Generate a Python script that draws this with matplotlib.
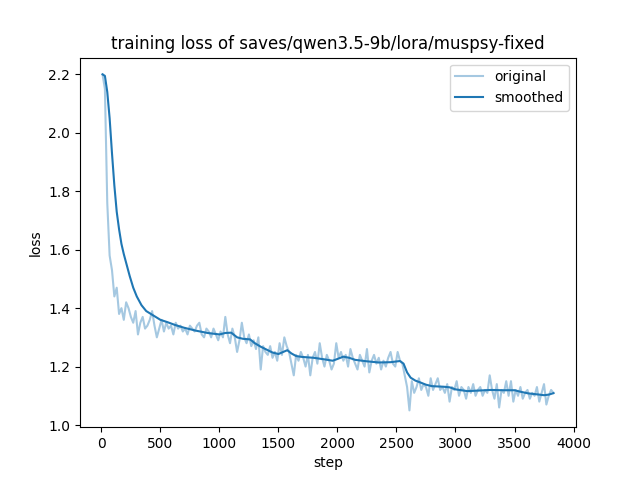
import matplotlib
matplotlib.use("Agg")
import matplotlib.pyplot as plt

title = "training loss of saves/qwen3.5-9b/lora/muspsy-fixed"

steps = list(range(10, 3831, 20))

losses = [
    2.20, 2.15, 1.76, 1.58, 1.53, 1.44, 1.47, 1.38, 1.40, 1.36,
    1.42, 1.40, 1.37, 1.35, 1.39, 1.31, 1.35, 1.37, 1.33, 1.34,
    1.36, 1.39, 1.34, 1.30, 1.33, 1.36, 1.32, 1.35, 1.33, 1.34,
    1.31, 1.35, 1.33, 1.34, 1.32, 1.33, 1.31, 1.34, 1.33, 1.32,
    1.34, 1.35, 1.31, 1.30, 1.33, 1.32, 1.30, 1.33, 1.31, 1.29,
    1.32, 1.30, 1.37, 1.31, 1.28, 1.33, 1.30, 1.25, 1.29, 1.35,
    1.30, 1.28, 1.31, 1.27, 1.29, 1.26, 1.30, 1.19, 1.27, 1.25,
    1.24, 1.27, 1.23, 1.25, 1.22, 1.28, 1.24, 1.30, 1.27, 1.25,
    1.21, 1.17, 1.24, 1.22, 1.25, 1.23, 1.20, 1.24, 1.17, 1.23,
    1.25, 1.21, 1.28, 1.23, 1.20, 1.24, 1.22, 1.19, 1.21, 1.28,
    1.23, 1.25, 1.22, 1.24, 1.20, 1.26, 1.23, 1.21, 1.19, 1.24,
    1.22, 1.20, 1.26, 1.18, 1.22, 1.24, 1.21, 1.23, 1.19, 1.22,
    1.20, 1.23, 1.25, 1.21, 1.20, 1.25, 1.22, 1.21, 1.17, 1.13,
    1.05, 1.15, 1.11, 1.13, 1.16, 1.12, 1.14, 1.13, 1.10, 1.16,
    1.12, 1.14, 1.16, 1.12, 1.13, 1.11, 1.14, 1.08, 1.13, 1.12,
    1.15, 1.10, 1.13, 1.12, 1.09, 1.13, 1.11, 1.14, 1.10, 1.12,
    1.13, 1.10, 1.12, 1.11, 1.17, 1.12, 1.09, 1.14, 1.06, 1.12,
    1.11, 1.15, 1.10, 1.15, 1.08, 1.12, 1.10, 1.13, 1.09, 1.11,
    1.12, 1.09, 1.11, 1.10, 1.13, 1.08, 1.11, 1.14, 1.07, 1.10,
    1.12, 1.11,
]

smooth_steps = [
    10, 30, 50, 70, 90, 110, 130, 150, 170, 190,
    210, 240, 270, 300, 340, 380, 420, 460, 500, 560,
    620, 700, 800, 900, 1000, 1050, 1100, 1150, 1200, 1260,
    1300, 1350, 1400, 1450, 1500, 1540, 1575, 1610, 1650, 1700,
    1800, 1900, 1960, 2000, 2050, 2100, 2150, 2250, 2350, 2450,
    2530, 2560, 2590, 2620, 2660, 2700, 2750, 2800, 2900, 2950,
    3000, 3100, 3200, 3300, 3400, 3500, 3560, 3620, 3690, 3750,
    3790, 3830,
]
smoothed = [
    2.20, 2.195, 2.14, 2.05, 1.93, 1.82, 1.73, 1.67, 1.62, 1.585,
    1.555, 1.51, 1.47, 1.44, 1.41, 1.39, 1.38, 1.37, 1.36, 1.352,
    1.343, 1.333, 1.323, 1.315, 1.31, 1.315, 1.316, 1.30, 1.295, 1.293,
    1.28, 1.268, 1.258, 1.248, 1.243, 1.25, 1.256, 1.245, 1.236, 1.233,
    1.23, 1.224, 1.22, 1.226, 1.234, 1.23, 1.223, 1.218, 1.214, 1.215,
    1.219, 1.21, 1.18, 1.162, 1.152, 1.146, 1.138, 1.133, 1.131, 1.129,
    1.122, 1.116, 1.118, 1.12, 1.119, 1.119, 1.113, 1.108, 1.105, 1.102,
    1.104, 1.109,
]

fig = plt.figure(figsize=(6.4, 4.8), dpi=100)
plt.plot(steps, losses, color="#1f77b4", alpha=0.4, label="original")
plt.plot(smooth_steps, smoothed, color="#1f77b4", label="smoothed")
plt.title(title)
plt.xlabel("step")
plt.ylabel("loss")
plt.legend()
plt.savefig("out.png", dpi=100)
